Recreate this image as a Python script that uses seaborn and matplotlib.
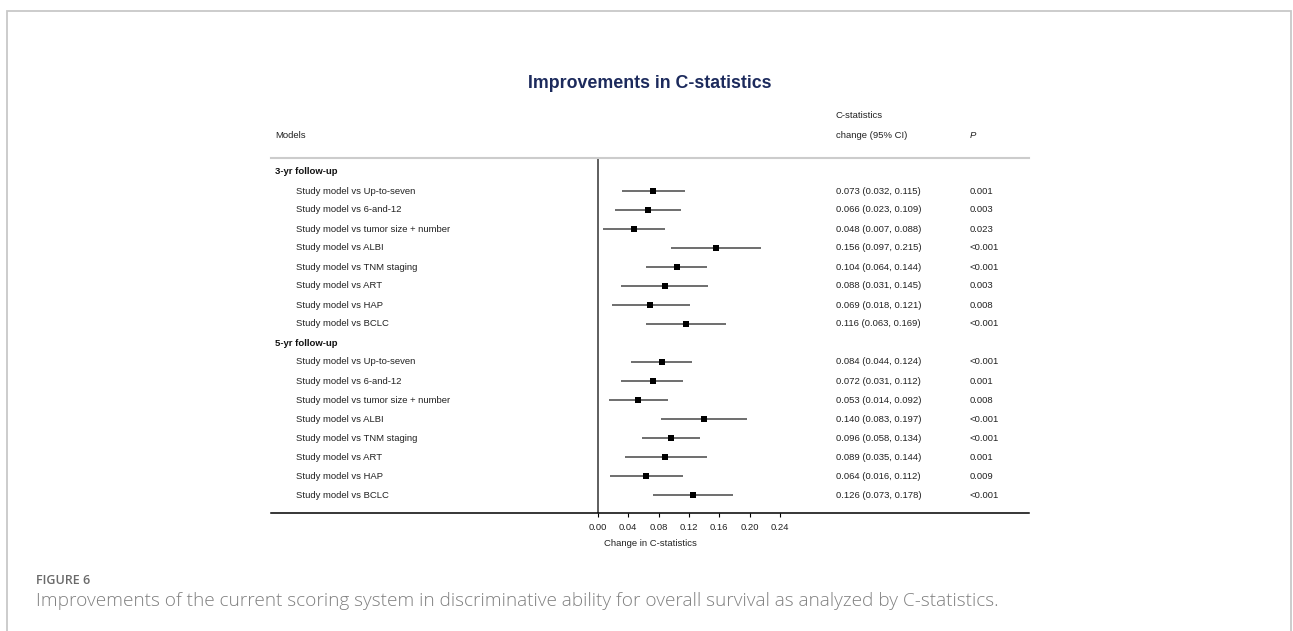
import numpy as np
import pandas as pd
import matplotlib
matplotlib.use("Agg")
import matplotlib.pyplot as plt
import seaborn as sns
from matplotlib.patches import Rectangle

# data
comparators = ['Up-to-seven', '6-and-12', 'tumor size + number', 'ALBI',
               'TNM staging', 'ART', 'HAP', 'BCLC']
groups = ['3-yr follow-up', '5-yr follow-up']

est_3yr = [0.073, 0.066, 0.048, 0.156, 0.104, 0.088, 0.069, 0.116]
lo_3yr = [0.032, 0.023, 0.007, 0.097, 0.064, 0.031, 0.018, 0.063]
hi_3yr = [0.115, 0.109, 0.088, 0.215, 0.144, 0.145, 0.121, 0.169]
p_3yr = ['0.001', '0.003', '0.023', '<0.001', '<0.001', '0.003', '0.008', '<0.001']

est_5yr = [0.084, 0.072, 0.053, 0.140, 0.096, 0.089, 0.064, 0.126]
lo_5yr = [0.044, 0.031, 0.014, 0.083, 0.058, 0.035, 0.016, 0.073]
hi_5yr = [0.124, 0.112, 0.092, 0.197, 0.134, 0.144, 0.112, 0.178]
p_5yr = ['<0.001', '0.001', '0.008', '<0.001', '<0.001', '0.001', '0.009', '<0.001']

xticks = [0.00, 0.04, 0.08, 0.12, 0.16, 0.20, 0.24]

# build table with row positions
rows = []
pos = 0
for g, est, lo, hi, p in [(groups[0], est_3yr, lo_3yr, hi_3yr, p_3yr),
                          (groups[1], est_5yr, lo_5yr, hi_5yr, p_5yr)]:
    rows.append(dict(row=pos, label=g, header=True, est=np.nan, lo=np.nan, hi=np.nan, p=''))
    pos += 1
    for c, e, l, h, pp in zip(comparators, est, lo, hi, p):
        rows.append(dict(row=pos, label='Study model vs ' + c, header=False,
                         est=e, lo=l, hi=h, p=pp))
        pos += 1
df = pd.DataFrame(rows)
pts = df[~df['header']]

sns.set_style("white")
plt.rcParams['font.family'] = ['Liberation Sans', 'DejaVu Sans']

W, H = 1293, 631
fig = plt.figure(figsize=(W / 100, H / 100), dpi=100)

def fx(px):
    return px / W

def fy(py):
    return 1 - py / H

# outer frame
fig.patches.append(Rectangle((fx(7), fy(700)), fx(1291) - fx(7), fy(11) - fy(700),
                             transform=fig.transFigure, fill=False,
                             edgecolor='#c8c8c8', linewidth=1.3))

ax_l, ax_r, ax_t, ax_b = 271, 1029, 158, 513
ax = fig.add_axes([fx(ax_l), fy(ax_b), fx(ax_r) - fx(ax_l), fy(ax_t) - fy(ax_b)])

scale = 757.5  # px per unit
ax.set_xlim((ax_l - 598) / scale, (ax_r - 598) / scale)
ax.set_ylim((ax_b - 172) / 19, (ax_t - 172) / 19)

ax.hlines(pts['row'], pts['lo'], pts['hi'], color='#555555', linewidth=1.2, zorder=2)
sns.scatterplot(data=pts, x='est', y='row', marker='s', color='black', s=24,
                linewidth=0, ax=ax, legend=False, zorder=3)
ax.axvline(0, color='#333333', linewidth=1.1, zorder=1)

for s in ['left', 'right']:
    ax.spines[s].set_visible(False)
ax.spines['top'].set_color('#cccccc')
ax.spines['top'].set_linewidth(1.5)
ax.spines['bottom'].set_color('black')
ax.spines['bottom'].set_linewidth(1.1)

ax.set_xticks(xticks)
ax.set_xticklabels([f'{t:.2f}' for t in xticks], fontsize=6.8, color='#222222')
ax.tick_params(axis='x', bottom=True, length=3, width=0.8, pad=4.5, color='black')
ax.set_yticks([])
ax.set_xlabel('Change in C-statistics', fontsize=6.8, color='#222222', labelpad=4.8)
ax.set_ylabel('')

tr = ax.get_yaxis_transform()
def frac(px):
    return (px - ax_l) / (ax_r - ax_l)

for _, r in df.iterrows():
    if r['header']:
        ax.text(frac(275), r['row'], r['label'], transform=tr, fontsize=6.8,
                fontweight='bold', va='center', ha='left', color='#111111')
    else:
        ax.text(frac(296), r['row'], r['label'], transform=tr, fontsize=6.8,
                va='center', ha='left', color='#222222')
        ax.text(frac(836), r['row'], f"{r['est']:.3f} ({r['lo']:.3f}, {r['hi']:.3f})",
                transform=tr, fontsize=6.8, va='center', ha='left', color='#222222')
        ax.text(frac(970), r['row'], r['p'], transform=tr, fontsize=6.8,
                va='center', ha='left', color='#222222')

# column headers and title
fig.text(fx(275), fy(135), 'Models', fontsize=6.8, va='center', color='#222222')
fig.text(fx(836), fy(116), 'C-statistics', fontsize=6.8, va='center', color='#222222')
fig.text(fx(836), fy(135), 'change (95% CI)', fontsize=6.8, va='center', color='#222222')
fig.text(fx(970), fy(135), 'P', fontsize=6.8, va='center', style='italic', color='#222222')
fig.text(fx(650), fy(83), 'Improvements in C-statistics', fontsize=12.8,
         fontweight='bold', ha='center', va='center', color='#1c2a5c')

# caption
fig.text(fx(36), fy(580), 'FIGURE 6', fontsize=9, fontweight='semibold',
         family='Open Sans', va='center', color='#6a6a6a')
fig.text(fx(36), fy(601), 'Improvements of the current scoring system in discriminative '
         'ability for overall survival as analyzed by C-statistics.',
         fontsize=13.7, fontweight='light', family='Open Sans', va='center', color='#808080')

fig.savefig('out.png', dpi=100)
